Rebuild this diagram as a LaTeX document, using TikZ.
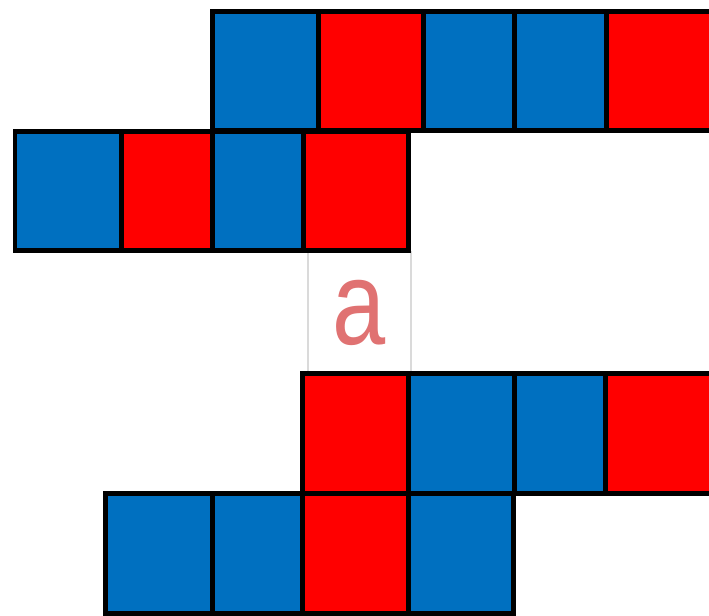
\documentclass[tikz,border=0pt]{standalone}
\usepackage{fontspec}
\setmainfont{Liberation Sans}
\usepackage{tikz}
\usetikzlibrary{positioning}
\definecolor{cellblue}{HTML}{0070C0}
\definecolor{cellred}{HTML}{FF0000}
\definecolor{labelred}{HTML}{E07272}
\definecolor{framegray}{HTML}{DADADA}
\tikzset{
  cell/.style={rectangle, draw=black, line width=0.1cm, inner sep=0pt, minimum height=2.4cm},
  bluecell/.style={cell, fill=cellblue},
  redcell/.style={cell, fill=cellred},
  labelbox/.style={rectangle, draw=framegray, line width=0.6pt, inner sep=0pt, minimum width=2.06cm, minimum height=2.42cm, text=labelred, font=\fontsize{68}{68}\selectfont}
}

\begin{document}
\begin{tikzpicture}[x=0.02cm, y=-0.02cm]
  \useasboundingbox (0,0) rectangle (709,615);
  \clip (0,0) rectangle (709,615);
  % label between the two pairs of rows
  \node[labelbox] (lbl) at (359.5,312.5) {\raisebox{-0.1cm}{\scalebox{0.8}[1]{a}}};
  % first pair
  \foreach \x/\w/\s [count=\i] in {212/106/bluecell, 318/105/redcell, 423/91/bluecell, 514/92/bluecell, 606/106/redcell}
    \node[\s, minimum width=\w*0.02cm] (upA\i) at (\x+\w/2, 71) {};
  \foreach \x/\w/\s [count=\i] in {15/106/bluecell, 121/91/redcell, 212/91/bluecell, 303/105/redcell}
    \node[\s, minimum width=\w*0.02cm] (upB\i) at (\x+\w/2, 191) {};
  % second pair
  \foreach \x/\w/\s [count=\i] in {302/106/redcell, 408/106/bluecell, 514/91/bluecell, 605/107/redcell}
    \node[\s, minimum width=\w*0.02cm] (lowA\i) at (\x+\w/2, 433.5) {};
  \foreach \x/\w/\s [count=\i] in {105/107/bluecell, 212/90/bluecell, 302/106/redcell, 408/105/bluecell}
    \node[\s, minimum width=\w*0.02cm] (lowB\i) at (\x+\w/2, 553.5) {};
\end{tikzpicture}
\end{document}
